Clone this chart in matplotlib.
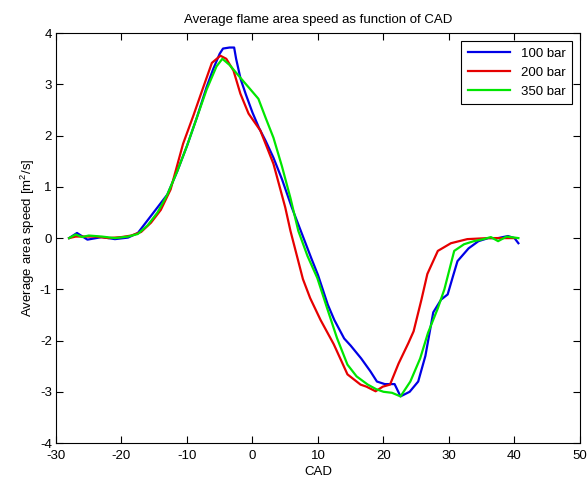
import matplotlib
matplotlib.use("Agg")
import matplotlib.pyplot as plt

plt.rcParams['font.family'] = ['Liberation Sans', 'DejaVu Sans']
plt.rcParams['mathtext.fontset'] = 'custom'
plt.rcParams['mathtext.rm'] = 'Liberation Sans'
plt.rcParams['axes.unicode_minus'] = False

# CAD positions and average area speed for each injection pressure
cad_100 = [-28, -26.8, -25.2, -23, -21, -19, -17.5, -16, -14.5, -13, -11.5, -10, -8.5, -7, -6, -5,
           -4.5, -3.5, -2.8, -2.5, -1.8, -1, 0, 1, 2, 3.2, 4.5, 6, 7.5, 9, 10, 11.5, 12.5, 14, 15,
           16.6, 18, 19, 20.2, 21.7, 22.6, 24, 25.3, 26.4, 27.6, 28.8, 29.8, 30.6, 31.3, 33, 34.5,
           36, 37.5, 39, 40, 40.6]
speed_100 = [0, 0.1, -0.03, 0.02, -0.02, 0.01, 0.1, 0.35, 0.6, 0.85, 1.3, 1.8, 2.35, 2.95, 3.3, 3.6,
             3.7, 3.72, 3.72, 3.5, 3.1, 2.8, 2.45, 2.15, 1.9, 1.57, 1.15, 0.6, 0.1, -0.4, -0.72, -1.3,
             -1.6, -1.96, -2.1, -2.35, -2.6, -2.8, -2.85, -2.85, -3.09, -3.0, -2.8, -2.3, -1.45,
             -1.2, -1.1, -0.75, -0.45, -0.2, -0.06, 0.0, 0.0, 0.04, 0.0, -0.1]

cad_200 = [-28, -27, -25.5, -24, -22, -20, -18.5, -17, -15.5, -14, -12.5, -10.6, -9, -7.5, -6.2,
           -4.9, -4, -2.9, -1.85, -0.6, 1.2, 3.2, 5, 5.8, 7.7, 8.8, 10.4, 12.4, 13.4, 14.5, 16.5,
           17.4, 18.8, 19.9, 21.0, 22.3, 23.8, 24.6, 25.8, 26.7, 28.3, 30.3, 32.8, 36, 38, 40]
speed_200 = [0, 0.03, 0.03, 0.03, 0.0, 0.02, 0.05, 0.12, 0.3, 0.55, 0.95, 1.84, 2.4, 2.95, 3.42,
             3.56, 3.5, 3.27, 2.82, 2.43, 2.1, 1.45, 0.6, 0.14, -0.8, -1.17, -1.6, -2.07, -2.35,
             -2.66, -2.86, -2.9, -2.99, -2.9, -2.86, -2.45, -2.05, -1.82, -1.2, -0.7, -0.25, -0.1,
             -0.02, 0.0, 0.0, 0.0]

cad_350 = [-28, -27, -26, -25, -23, -21, -19, -17.5, -16, -14.5, -13, -11.5, -10, -8.5, -7, -5.5,
           -4.6, -3.5, -1.85, -0.5, 0.9, 2, 3.2, 4.5, 5.8, 7.0, 8.4, 9.9, 11.4, 12.9, 14.5, 15.9,
           17.6, 18.9, 20.0, 21.3, 22.6, 24.1, 25.6, 26.8, 28.3, 29.3, 30.8, 32.3, 33.8, 35.3,
           36.4, 37.5, 38.8, 40.6]
speed_350 = [0, 0.07, 0.02, 0.05, 0.03, 0.0, 0.03, 0.08, 0.25, 0.5, 0.85, 1.3, 1.8, 2.35, 2.9,
             3.35, 3.5, 3.38, 3.13, 2.93, 2.72, 2.35, 1.96, 1.4, 0.78, 0.14, -0.35, -0.78, -1.37,
             -1.95, -2.47, -2.7, -2.86, -2.95, -3.0, -3.02, -3.09, -2.8, -2.35, -1.85, -1.37, -1.0,
             -0.25, -0.12, -0.06, -0.02, 0.02, -0.06, 0.03, 0.0]

series_labels = ['100 bar', '200 bar', '350 bar']
x_ticks = [-30, -20, -10, 0, 10, 20, 30, 40, 50]
y_ticks = [-4, -3, -2, -1, 0, 1, 2, 3, 4]

fig = plt.figure(figsize=(5.87, 4.88), dpi=100)
ax = fig.add_axes([0.0954, 0.0922, 0.8926, 0.8398])

ax.plot(cad_100, speed_100, color='#0000e6', lw=1.6, label=series_labels[0])
ax.plot(cad_200, speed_200, color='#e60000', lw=1.6, label=series_labels[1])
ax.plot(cad_350, speed_350, color='#00e600', lw=1.6, label=series_labels[2])

ax.set_xlim(-30, 50)
ax.set_ylim(-4, 4)
ax.set_xticks(x_ticks)
ax.set_yticks(y_ticks)
ax.tick_params(direction='in', top=True, right=True, length=5, width=0.8, labelsize=9.5, pad=3)
ax.tick_params(axis='x', pad=5)
for s in ax.spines.values():
    s.set_linewidth(0.8)

ax.set_title('Average flame area speed as function of CAD', fontsize=9.5, pad=7)
ax.set_xlabel('CAD', fontsize=9.5, labelpad=3)
ax.set_ylabel('Average area speed [m$^2$/s]', fontsize=9.5, labelpad=2)

leg = ax.legend(loc='upper right', fontsize=9.5, fancybox=False, framealpha=1,
                edgecolor='black', handlelength=3.2, borderaxespad=0.6, borderpad=0.5,
                labelspacing=0.5)
leg.get_frame().set_linewidth(0.8)

fig.savefig('out.png', dpi=100)
